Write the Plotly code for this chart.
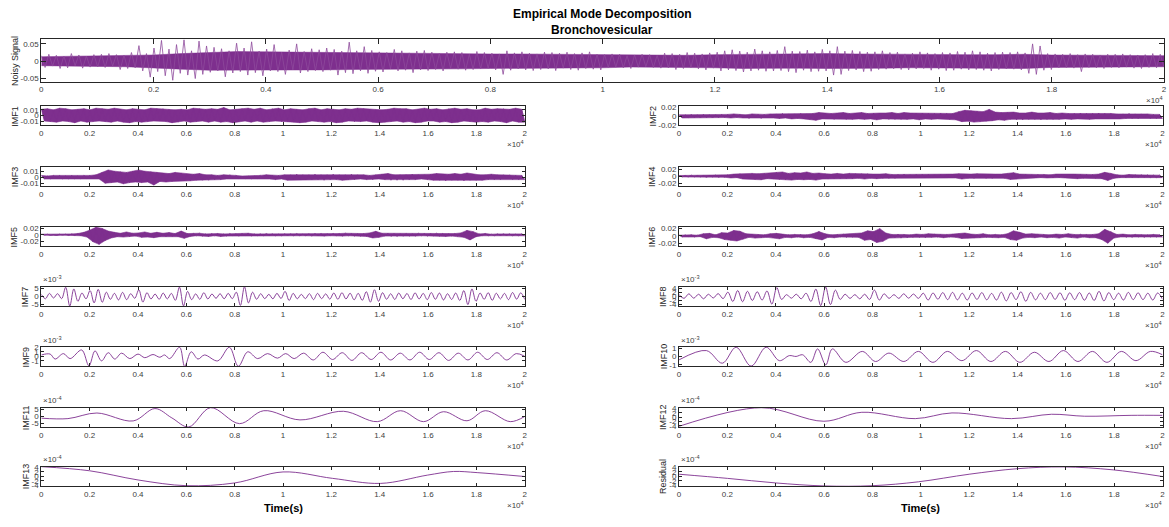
import numpy as np
import plotly.graph_objects as go

W, H = 1169, 527
PURPLE = '#7E2F8E'
AXC = '#262626'
TXT = '#404040'
FONT = 'Liberation Sans, Arial, sans-serif'
N_SAMPLES = 20000

x_tick_vals = [0, 2000, 4000, 6000, 8000, 10000, 12000, 14000, 16000, 18000, 20000]
x_tick_text = ['0', '0.2', '0.4', '0.6', '0.8', '1', '1.2', '1.4', '1.6', '1.8', '2']

# ---------------- data ----------------
# noisy signal: successive peak values (units of 1e-3), evenly spaced over the record
noisy = [16,-18,20,-14,17,-21,15,-19,22,-13,18,-20,15,-17,19,
         -16,20,-18,22,-14,19,-24,17,-21,25,-19,45,-28,22,-46,
         38,-30,60,-42,35,-55,48,-35,62,-40,30,-50,58,-38,44,
         -32,40,-28,36,-45,30,-34,52,-30,38,-40,56,-33,29,-42,
         35,-28,48,-30,26,-38,32,-25,50,-34,28,-30,36,-27,33,
         -30,38,-26,34,-40,29,-33,55,-36,30,-28,42,-35,31,-29,
         27,-31,25,-22,34,-28,30,-26,24,-33,29,-25,31,-27,26,
         -24,22,-28,26,-21,27,-23,25,-26,20,-24,28,-22,25,-20,
         23,-25,21,-38,30,-26,24,-22,27,-25,23,-27,21,-24,26,
         -22,25,-27,23,-20,26,-24,22,-26,24,-21,27,-23,20,-25,
         19,-18,21,-17,20,-19,16,-21,18,-17,20,-16,19,-18,17,
         -20,23,-19,22,-24,20,-21,25,-18,23,-22,21,-25,24,-20,
         26,-28,30,-25,33,-27,29,-31,26,-28,35,-26,30,-29,27,
         -28,31,-27,42,-30,29,-33,28,-26,32,-30,27,-29,34,-28,
         30,-40,42,-38,29,-27,31,-25,28,-30,26,-29,27,-24,30,
         -23,25,-22,26,-24,21,-25,23,-22,27,-21,24,-26,22,-23,
         25,-27,24,-26,28,-23,26,-25,30,-24,27,-26,23,-28,25,
         -24,26,-22,25,-23,27,-25,24,-35,50,-38,44,-26,22,-24,
         21,-19,20,-18,22,-20,19,-30,21,-18,20,-19,18,-21,20,
         -18,20,-19,21,-17,19,-20,18,-21,19,-18,22,-19,20,-17]
# dense core of the noisy signal (upper / lower edge every 500 samples, units 1e-3)
noisy_core_hi = [13,14,14,16,18,22,26,28,27,26,25,25,24,24,23,22,21,21,20,20,19,
                 18,17,17,19,20,21,21,22,21,20,19,19,19,19,20,18,17,17,16,16]
noisy_core_lo = [-13,-14,-15,-16,-19,-23,-26,-27,-27,-25,-25,-24,-24,-23,-22,-22,-21,-20,-20,-19,-19,
                 -17,-17,-18,-19,-21,-21,-20,-21,-21,-20,-19,-18,-19,-20,-21,-18,-17,-17,-16,-16]

# dense modes: successive peak values (units of 1e-3), evenly spaced
imf1 = [11,-10,12,-11,10,-12,13,-10, 12,-11,10,-13,11,-10,12,-12,
        10,-11,13,-10,12,-11,11,-12, 13,-10,11,-12,10,-13,12,-11,
        11,-12,10,-11,13,-10,12,-10, 12,-11,11,-13,10,-12,11,-10,
        10,-12,13,-11,12,-10,11,-12, 12,-10,11,-12,14,-11,10,-13,
        11,-11,12,-10,13,-12,11,-10, 13,-12,10,-11,12,-10,13,-11,
        10,-11,12,-12,11,-13,10,-12, 12,-10,13,-11,10,-12,12,-11,
        11,-13,10,-12,12,-10,11,-11, 13,-11,12,-10,11,-12,10,-13,
        10,-12,11,-11,13,-10,12,-12, 12,-11,10,-13,11,-12,13,-10,
        11,-10,12,-12,10,-11,12,-13, 13,-12,11,-10,12,-11,10,-12,
        10,-11,13,-12,11,-10,12,-11, 12,-13,11,-10,13,-12,11,-12]

imf2 = [3,-4,3,-3,4,-3,3,-4, 4,-3,3,-4,3,-3,4,-3,
        4,-4,5,-3,4,-4,3,-5, 5,-4,4,-5,4,-4,5,-4,
        5,-5,6,-4,5,-6,5,-5, 6,-6,5,-7,6,-9,8,-6,
        7,-6,6,-7,7,-6,8,-7, 6,-7,7,-6,8,-7,6,-6,
        7,-8,7,-6,7,-7,8,-7, 6,-7,8,-7,7,-6,7,-8,
        7,-6,6,-7,6,-6,7,-6, 6,-7,6,-8,10,-12,13,-11,
        12,-13,11,-12,10,-11,15,-10, 9,-8,8,-9,8,-7,9,-8,
        7,-8,7,-7,9,-7,7,-8, 7,-7,8,-7,6,-7,7,-6,
        6,-7,6,-6,7,-6,6,-7, 6,-6,7,-6,6,-5,6,-6,
        5,-6,5,-5,6,-5,5,-5, 5,-4,5,-5,4,-5,4,-5]

imf3 = [3,-3,2,-3,3,-2,3,-3, 2,-3,3,-3,2,-3,3,-2,
        3,-3,4,-3,8,-10,12,-9, 10,-8,9,-11,8,-9,10,-8,
        12,-9,10,-8,9,-13,8,-7, 7,-8,6,-7,8,-6,7,-6,
        5,-6,5,-5,6,-5,4,-5, 4,-4,3,-4,4,-3,4,-3,
        3,-2,2,-3,2,-3,2,-2, 3,-3,4,-3,3,-4,3,-3,
        4,-5,4,-4,5,-4,4,-4, 4,-4,5,-4,4,-5,4,-4,
        5,-4,4,-5,4,-4,5,-4, 4,-3,4,-4,3,-4,4,-3,
        5,-4,6,-5,4,-5,4,-5, 4,-4,5,-4,4,-3,4,-4,
        5,-5,6,-5,5,-6,5,-5, 6,-5,5,-6,7,-5,5,-5,
        4,-5,4,-4,5,-4,4,-4, 4,-3,4,-4,3,-4,3,-4]

imf4 = [2,-2,2,-2,3,-2,2,-2, 2,-3,2,-2,3,-3,2,-3,
        4,-5,6,-4,7,-8,6,-7, 8,-9,7,-10,8,-7,9,-8,
        11,-9,12,-10,8,-11,10,-9, 9,-10,12,-9,8,-11,9,-8,
        7,-8,6,-7,8,-7,6,-7, 8,-7,7,-6,7,-8,7,-6,
        6,-7,6,-6,7,-6,5,-6, 5,-5,6,-5,4,-5,5,-4,
        5,-4,5,-5,4,-5,5,-5, 5,-5,6,-5,7,-8,6,-6,
        6,-6,7,-5,6,-6,5,-6, 6,-5,6,-6,7,-9,10,-8,
        6,-5,5,-5,4,-5,5,-4, 5,-5,4,-5,6,-4,5,-5,
        6,-5,6,-7,5,-6,5,-5, 5,-6,6,-7,11,-12,8,-6,
        4,-4,3,-4,5,-4,4,-3, 4,-3,4,-4,3,-4,3,-4]

imf5 = [2,-1,2,-2,1,-2,2,-1, 2,-2,3,-2,4,-3,8,-7,
        15,-22,24,-30,20,-18,12,-10, 8,-6,5,-7,9,-6,5,-4,
        6,-8,9,-7,5,-9,8,-6, 5,-6,7,-5,4,-6,12,-11,
        4,-5,5,-3,5,-4,3,-5, 4,-3,4,-5,3,-4,4,-3,
        3,-4,4,-3,5,-4,3,-3, 3,-3,4,-2,3,-3,2,-3,
        3,-2,3,-3,4,-3,2,-3, 3,-4,4,-3,4,-4,3,-3,
        4,-3,4,-4,5,-3,4,-4, 3,-4,4,-5,6,-10,11,-8,
        5,-4,5,-5,4,-5,3,-4, 4,-4,3,-4,5,-3,4,-4,
        4,-3,5,-4,4,-5,3,-4, 4,-5,6,-8,14,-16,10,-6,
        3,-3,4,-3,2,-3,3,-2, 3,-2,3,-3,2,-3,3,-3]

imf6 = [2,-3,3,-2,3,-3,2,-2, 6,-8,7,-4,3,-5,9,-10,
        8,-12,15,-14,13,-9,6,-4, 5,-6,4,-5,3,-4,6,-5,
        7,-8,5,-4,3,-5,4,-3, 4,-5,3,-4,6,-8,12,-11,
        6,-4,3,-5,4,-3,5,-4, 4,-3,5,-4,8,-12,14,-10,
        12,-18,20,-15,8,-6,4,-5, 5,-6,4,-5,3,-4,5,-4,
        4,-5,6,-4,5,-3,4,-5, 4,-3,5,-4,6,-7,8,-6,
        5,-6,4,-5,6,-4,3,-4, 4,-5,3,-4,6,-10,14,-12,
        10,-6,5,-4,6,-5,4,-3, 4,-5,3,-4,5,-6,4,-3,
        6,-5,4,-6,5,-3,4,-5, 4,-5,6,-10,18,-20,12,-6,
        4,-3,5,-4,3,-4,4,-3, 3,-4,3,-3,4,-3,3,-3]

# oscillatory modes: successive extrema (units 1e-3), evenly spaced
imf7 = [1.2,-1.5,1.8,-1.0,1.6,-1.4, 5.5,-5.9,4.5,-3.0,2.0,-1.5,
        3.5,-4.0,4.2,-3.6,2.5,-1.8, 1.8,-2.2,2.4,-2.0,1.6,-1.2,
        4.0,-3.5,2.2,-1.6,1.4,-1.8, 2.0,-1.6,1.8,-2.4,5.6,-5.8,
        3.0,-2.0,1.5,-1.8,2.2,-1.6, 1.4,-1.2,1.6,-1.5,1.8,-1.4,
        2.5,-5.5,5.8,-4.0,2.5,-1.8, 1.6,-1.4,1.2,-1.5,1.8,-1.3,
        3.0,-2.5,1.8,-1.5,1.2,-1.4, 1.6,-2.0,1.8,-1.4,1.5,-1.7,
        2.0,-1.8,2.2,-1.6,1.9,-2.1, 1.8,-2.4,2.8,-3.5,4.0,-3.0,
        2.2,-1.8,1.6,-1.9,2.0,-1.5, 1.7,-1.9,2.1,-1.6,1.8,-2.0,
        2.3,-1.8,2.0,-2.2,1.6,-1.9, 2.0,-2.5,3.5,-5.0,4.5,-3.0,
        2.0,-1.8,2.2,-2.4,1.9,-1.6, 1.8,-2.0,2.3,-1.7,2.1,-1.9]

imf8 = [0.8,-1.0,1.2,-0.9,1.0, -1.2,1.0,-0.8,1.3,-1.1,
        2.0,-2.5,2.8,-2.6,2.4, -2.0,2.2,-1.8,2.6,-3.8,
        4.2,-1.5,0.8,-0.9,1.0, -1.2,1.5,-2.5,3.5,-4.5,
        4.5,-4.0,3.0,-1.5,1.0, -1.0,0.8,-1.2,1.0,-1.5,
        3.0,-1.8,1.2,-1.0,0.8, -1.0,1.2,-0.9,1.1,-1.0,
        1.5,-1.8,1.6,-1.4,1.8, -1.6,1.9,-1.7,1.5,-1.8,
        1.6,-1.5,1.8,-1.7,1.4, -1.8,2.0,-2.2,1.8,-1.6,
        2.2,-2.4,1.9,-1.7,1.5, -1.6,1.8,-1.5,1.7,-1.9,
        1.7,-1.6,1.8,-1.9,1.6, -2.0,2.4,-2.2,1.8,-1.6,
        1.5,-1.8,1.9,-1.6,1.7, -1.6,1.5,-1.8,1.6,-1.4]

# slow modes: (sample index, value) turning points
imf9_t = [0,363,570,913,1190,1670,1970,2220,2490,2770,3040,3320,3660,4000,4280,4620,4900,5100,
          5310,5720,5930,6200,6480,6750,7300,7780,8150,8540,8950,9360,9770,10110,10460,10850,
          11250,11650,12050,12450,12850,13250,13650,14050,14450,14850,15250,15650,16050,16450,
          16850,17250,17650,18050,18450,18850,19250,19650,20000]
imf9_v = [0.3,0.5,-0.6,0.6,-0.5,1.4,-2.1,1.2,-1.0,0.8,-0.6,0.7,-0.5,0.5,-0.3,0.4,-0.2,0.3,
          -0.5,2.0,-2.2,1.0,-0.6,0.3,-1.0,2.0,-2.2,1.0,-0.5,0.6,-0.4,0.6,-0.5,0.7,
          -0.8,0.9,-0.7,0.8,-0.9,0.8,-0.7,0.9,-0.8,0.7,-0.8,0.9,-0.7,0.8,
          -0.9,0.7,-0.8,0.9,-0.7,0.8,-0.8,0.6,0.0]

imf10_t = [0,1130,1790,2360,2980,3600,4150,4560,4840,5110,5450,5730,6070,6340,6900,7580,8130,8680,
           9300,9900,10500,11100,11700,12300,12900,13500,14100,14700,15300,15900,16500,17100,17700,
           18300,18900,19500,20000]
imf10_v = [-0.4,0.7,-0.8,1.1,-1.15,1.1,-0.5,0.1,0.0,0.2,-0.7,0.9,-1.0,0.9,-0.7,0.6,-0.6,0.4,
           -0.6,0.6,-0.7,0.6,-0.5,0.7,-0.6,0.6,-0.7,0.5,-0.6,0.7,-0.6,0.6,-0.7,
           0.6,-0.5,0.6,0.2]

# units 1e-4
imf11_t = [0,1100,2300,3800,4700,5400,6100,7000,8200,9200,10700,12500,13900,14860,15810,16640,17610,18370,19400,20000]
imf11_v = [-1.2,-1.5,2.4,-3.1,5.5,-1.0,-7.3,6.1,-5.0,4.0,-2.4,3.6,-3.6,4.0,-3.6,3.3,-3.0,4.0,-3.6,0.0]

imf12_t = [0,3400,5990,7560,9770,11290,13750,15410,16780,18700,20000]
imf12_v = [-4.2,4.3,-1.9,2.2,-0.7,1.9,-0.7,1.3,0.4,0.8,0.8]

imf13_t = [0,2000,4000,6000,8000,10000,12050,14040,15970,17050,18030,20000]
imf13_v = [4.2,2.4,-1.6,-4.1,-2.9,1.9,-0.9,-3.1,0.5,2.1,1.6,-0.1]

resid_t = [0,2000,4000,6000,8000,9900,12000,13980,15900,17960,20000]
resid_v = [0.9,-0.9,-2.9,-4.2,-4.1,-2.4,0.9,3.3,4.1,2.8,-0.1]

# ---------------- layout geometry (pixels) ----------------
LEFT = (39.5, 525.0)
RIGHT = (680.0, 1165.5)
TOPX = (39.5, 1167.0)
ROW_TOPS = [104.0, 165.5, 226.7, 287.7, 349.0, 410.7, 470.7]
ROW_H = 19.6

def even_t(vals):
    return np.linspace(0, N_SAMPLES, len(vals))

panels = [
    dict(label='Noisy Signal', box=(TOPX, (36.0, 79.0)), x=even_t(noisy), y=np.array(noisy) * 1e-3,
         kind='noisy', ylim=(-0.059, 0.063), yt=[-0.05, 0, 0.05], ytt=['-0.05', '0', '0.05'], exp=None, lab_dx=27),
]

def add_panel(label, col, row, x, y, kind, ylim, yt, ytt, exp, lab_dx):
    xs = LEFT if col == 0 else RIGHT
    top = ROW_TOPS[row]
    panels.append(dict(label=label, box=(xs, (top, top + ROW_H)), x=x, y=y, kind=kind,
                       ylim=ylim, yt=yt, ytt=ytt, exp=exp, lab_dx=lab_dx))

add_panel('IMF1', 0, 0, even_t(imf1), np.array(imf1) * 1e-3, 'dense', (-0.018, 0.0165),
          [-0.01, 0, 0.01], ['-0.01', '0', '0.01'], None, 26.5)
add_panel('IMF2', 1, 0, even_t(imf2), np.array(imf2) * 1e-3, 'dense', (-0.0205, 0.022),
          [-0.02, 0, 0.02], ['-0.02', '0', '0.02'], None, 26.5)
add_panel('IMF3', 0, 1, even_t(imf3), np.array(imf3) * 1e-3, 'dense', (-0.0145, 0.0175),
          [-0.01, 0, 0.01], ['-0.01', '0', '0.01'], None, 26.5)
add_panel('IMF4', 1, 1, even_t(imf4), np.array(imf4) * 1e-3, 'dense', (-0.0275, 0.027),
          [-0.02, 0, 0.02], ['-0.02', '0', '0.02'], None, 26.5)
add_panel('IMF5', 0, 2, even_t(imf5), np.array(imf5) * 1e-3, 'dense', (-0.0355, 0.0252),
          [-0.02, 0, 0.02], ['-0.02', '0', '0.02'], None, 26.5)
add_panel('IMF6', 1, 2, even_t(imf6), np.array(imf6) * 1e-3, 'dense', (-0.028, 0.025),
          [-0.02, 0, 0.02], ['-0.02', '0', '0.02'], None, 26.5)
add_panel('IMF7', 0, 3, even_t(imf7), np.array(imf7), 'wave', (-5.9, 5.8),
          [-5, 0, 5], ['-5', '0', '5'], '-3', 15.5)
add_panel('IMF8', 1, 3, even_t(imf8), np.array(imf8), 'wave', (-4.7, 4.6),
          [-4, -2, 0, 2, 4], ['-4', '-2', '0', '2', '4'], '-3', 15.5)
add_panel('IMF9', 0, 4, np.array(imf9_t), np.array(imf9_v), 'wave', (-2.2, 2.05),
          [-1, 0, 1, 2], ['-1', '0', '1', '2'], '-3', 15.5)
add_panel('IMF10', 1, 4, np.array(imf10_t), np.array(imf10_v), 'wave', (-1.17, 1.12),
          [-1, 0, 1], ['-1', '0', '1'], '-3', 15.5)
add_panel('IMF11', 0, 5, np.array(imf11_t), np.array(imf11_v), 'wave', (-7.3, 6.1),
          [-5, 0, 5], ['-5', '0', '5'], '-4', 15.5)
add_panel('IMF12', 1, 5, np.array(imf12_t), np.array(imf12_v), 'wave', (-4.5, 4.3),
          [-4, -2, 0, 2, 4], ['-4', '-2', '0', '2', '4'], '-4', 15.5)
add_panel('IMF13', 0, 6, np.array(imf13_t), np.array(imf13_v), 'wave', (-4.2, 4.2),
          [-4, -2, 0, 2, 4], ['-4', '-2', '0', '2', '4'], '-4', 15.5)
add_panel('Residual', 1, 6, np.array(resid_t), np.array(resid_v), 'wave', (-4.2, 4.2),
          [-4, -2, 0, 2, 4], ['-4', '-2', '0', '2', '4'], '-4', 15.5)

fig = go.Figure()
annotations = []

def ann(text, x, y, size, xanchor='center', yanchor='middle', angle=0, color=TXT, bold=False):
    annotations.append(dict(text=('<b>%s</b>' % text) if bold else text, x=x / W, y=1 - y / H,
                            xref='paper', yref='paper', showarrow=False, xanchor=xanchor,
                            yanchor=yanchor, textangle=angle,
                            font=dict(family=FONT, size=size, color=color)))

def band(x, y):
    """Closed outline through the positive peaks (upper edge) and the negative peaks (lower edge)."""
    up = y > 0
    lo = ~up
    bx = np.concatenate([x[up], x[lo][::-1]])
    by = np.concatenate([y[up], y[lo][::-1]])
    return bx, by

for i, p in enumerate(panels, start=1):
    (x0, x1), (y0, y1) = p['box']
    xa = 'xaxis' if i == 1 else 'xaxis%d' % i
    ya = 'yaxis' if i == 1 else 'yaxis%d' % i
    xr = 'x' if i == 1 else 'x%d' % i
    yr = 'y' if i == 1 else 'y%d' % i
    tl = 5 if i == 1 else 3
    common = dict(showline=True, linecolor=AXC, linewidth=1, mirror='ticks', ticks='inside',
                  ticklen=tl, tickwidth=1, tickcolor=AXC, showgrid=False, zeroline=False,
                  tickfont=dict(family=FONT, size=8, color=TXT), fixedrange=True)
    fig.layout[xa] = dict(domain=[x0 / W, x1 / W], range=[0, N_SAMPLES], anchor=yr,
                          tickmode='array', tickvals=x_tick_vals, ticktext=x_tick_text, **common)
    fig.layout[ya] = dict(domain=[1 - y1 / H, 1 - y0 / H], range=list(p['ylim']), anchor=xr,
                          tickmode='array', tickvals=p['yt'], ticktext=p['ytt'], **common)
    if p['kind'] == 'noisy':
        ct = even_t(noisy_core_hi)
        cx = np.concatenate([ct, ct[::-1]])
        cy = np.concatenate([noisy_core_hi, noisy_core_lo[::-1]]) * 1e-3
        fig.add_trace(go.Scatter(x=cx, y=cy, mode='lines', xaxis=xr, yaxis=yr, fill='toself',
                                 fillcolor=PURPLE, line=dict(color=PURPLE, width=0.5, shape='linear'),
                                 hoverinfo='skip'))
        fig.add_trace(go.Scatter(x=p['x'], y=p['y'], mode='lines', xaxis=xr, yaxis=yr,
                                 line=dict(color='#8E4A9C', width=0.8), hoverinfo='skip'))
    elif p['kind'] == 'dense':
        bx, by = band(p['x'], p['y'])
        fig.add_trace(go.Scatter(x=bx, y=by, mode='lines', xaxis=xr, yaxis=yr, fill='toself',
                                 fillcolor=PURPLE, line=dict(color=PURPLE, width=0.6),
                                 hoverinfo='skip'))
        fig.add_trace(go.Scatter(x=p['x'], y=p['y'], mode='lines', xaxis=xr, yaxis=yr,
                                 line=dict(color=PURPLE, width=0.8), hoverinfo='skip'))
    else:
        fig.add_trace(go.Scatter(x=p['x'], y=p['y'], mode='lines', xaxis=xr, yaxis=yr,
                                 line=dict(color=PURPLE, width=0.9, shape='spline', smoothing=1.0),
                                 hoverinfo='skip'))
    # y label
    ann(p['label'], x0 - p['lab_dx'], (y0 + y1) / 2, 9, angle=-90, color='#262626')
    # x exponent
    ann('\u00d710<sup>4</sup>', x1 + 1, y1 + 19, 8, xanchor='right')
    if p['exp']:
        ann('\u00d710<sup>%s</sup>' % p['exp'], x0, y0 - 0.5, 8, xanchor='left', yanchor='bottom')

ann('Empirical Mode Decomposition', 603, 10, 12, color='#000000', bold=True)
ann('Bronchovesicular', 603, 26, 12, color='#000000', bold=True)
ann('Time(s)', (LEFT[0] + LEFT[1]) / 2, 513, 11, color='#000000', bold=True)
ann('Time(s)', (RIGHT[0] + RIGHT[1]) / 2, 513, 11, color='#000000', bold=True)

fig.update_layout(width=W, height=H, margin=dict(l=0, r=0, t=0, b=0), showlegend=False,
                  paper_bgcolor='white', plot_bgcolor='white', annotations=annotations)
fig.write_html('out.html')
